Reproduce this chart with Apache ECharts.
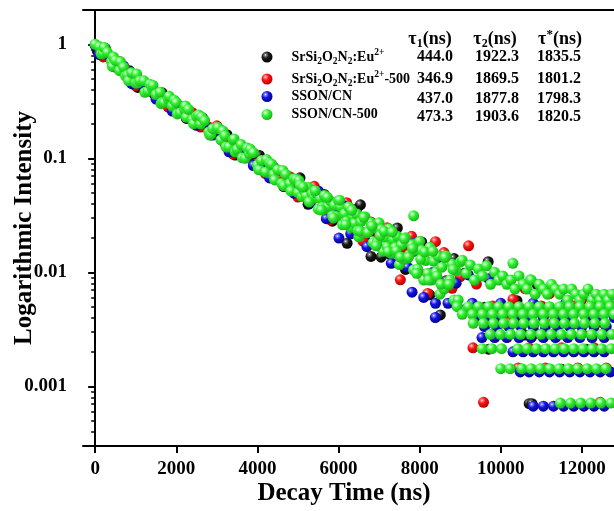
<!DOCTYPE html>
<html><head><meta charset="utf-8">
<script src="https://cdn.jsdelivr.net/npm/echarts@6/dist/echarts.min.js"></script>
<style>html,body{margin:0;padding:0;background:#fff}#c{width:614px;height:511px}</style>
</head><body><div id="c"></div>
<script>
const seriesNames = ['SrSi2O2N2:Eu2+', 'SrSi2O2N2:Eu2+-500', 'SSON/CN', 'SSON/CN-500'];
const legendLabels = [
  '{g| }{n|SrSi}{b|2}{n|O}{b|2}{n|N}{b|2}{n|:Eu}{p|2+}',
  '{g| }{n|SrSi}{b|2}{n|O}{b|2}{n|N}{b|2}{n|:Eu}{p|2+}{n|-500}',
  '{g| }{n|SSON/CN}',
  '{g| }{n|SSON/CN-500}'
];
const tauHeaders = ['{t|τ}{b|1}{t|(ns)}', '{t|τ}{b|2}{t|(ns)}', '{t|τ}{p|*}{t|(ns)}'];
const tau1 = [444.0, 346.9, 437.0, 473.3];
const tau2 = [1922.3, 1869.5, 1877.8, 1903.6];
const tauStar = [1835.5, 1801.2, 1798.3, 1820.5];
const xTicks = [0, 2000, 4000, 6000, 8000, 10000, 12000];
const yTicks = [0.001, 0.01, 0.1, 1];
const yMinorTicks = [0.0004,0.0005,0.0006,0.0007,0.0008,0.0009,
  0.002,0.003,0.004,0.005,0.006,0.007,0.008,0.009,
  0.02,0.03,0.04,0.05,0.06,0.07,0.08,0.09,
  0.2,0.3,0.4,0.5,0.6,0.7,0.8,0.9];

const blackPts = [[0,0.99],[50,0.881],[250,0.923],[450,0.641],[650,0.631],[850,0.585],[1050,0.419],[1250,0.449],[1450,0.369],[1650,0.376],[1850,0.280],[2050,0.279],[2250,0.224],[2450,0.210],[2650,0.225],[2850,0.161],[3050,0.167],[3250,0.161],[3450,0.107],[3650,0.124],[3850,0.0991],[4050,0.106],[4250,0.0738],[4450,0.0753],[4650,0.0565],[4850,0.0543],[5050,0.0675],[5250,0.0395],[5450,0.0472],[5650,0.0481],[5850,0.0281],[6050,0.0386],[6212,0.0180],[6250,0.0279],[6450,0.0361],[6540,0.0391],[6650,0.0195],[6800,0.0138],[6850,0.0230],[7050,0.0136],[7250,0.0145],[7450,0.0245],[7650,0.0106],[7850,0.0153],[8050,0.0185],[8250,0.00635],[8450,0.0131],[8510,0.00423],[8650,0.00846],[8850,0.0132],[9100,0.0098],[9600,0.00494],[9690,0.0124],[9700,0.00212],[10100,0.00423],[10400,0.00564],[10600,0.00282],[10700,0.000705],[10770,0.000705],[10900,0.0078],[11200,0.00494],[11500,0.00141],[11800,0.00353],[12100,0.00212],[12300,0.00423],[12600,0.00564]];

const redPts = [[0,0.985],[200,0.776],[400,0.759],[600,0.708],[800,0.519],[1000,0.432],[1200,0.457],[1400,0.432],[1600,0.335],[1800,0.282],[2000,0.302],[2200,0.260],[2400,0.251],[2600,0.188],[2800,0.188],[3000,0.193],[3200,0.135],[3400,0.109],[3600,0.125],[3800,0.121],[4000,0.0899],[4200,0.0736],[4400,0.0836],[4600,0.0695],[4800,0.069],[5000,0.0457],[5200,0.0521],[5400,0.0569],[5600,0.0365],[5800,0.0288],[6000,0.0383],[6200,0.0408],[6400,0.0251],[6600,0.0188],[6800,0.0276],[7000,0.0215],[7200,0.0246],[7400,0.0124],[7525,0.0086],[7600,0.0166],[7800,0.0207],[8000,0.0098],[8200,0.00653],[8390,0.0186],[8400,0.0127],[8600,0.0149],[8800,0.00725],[9000,0.0092],[9207,0.0171],[9315,0.00218],[9400,0.0079],[9500,0.00435],[9575,0.000725],[9800,0.00508],[9900,0.0029],[10100,0.0087],[10200,0.00363],[10300,0.0058],[10430,0.00145],[10500,0.00435],[10600,0.0072],[10700,0.00218],[10900,0.0029],[11000,0.00508],[11100,0.00145],[11200,0.0065],[11300,0.00363],[11500,0.00218],[11700,0.00435],[11800,0.00508],[11900,0.00145],[12000,0.0058],[12000,0.0029],[12300,0.00218],[12450,0.0058],[12450,0.000725],[12500,0.00363],[12600,0.00145],[12700,0.00508]];

const bluePts = [[0,0.98],[100,0.813],[300,0.822],[500,0.631],[700,0.646],[900,0.452],[1100,0.452],[1300,0.442],[1500,0.331],[1700,0.335],[1900,0.260],[2100,0.285],[2300,0.229],[2500,0.195],[2700,0.202],[2900,0.160],[3100,0.176],[3300,0.114],[3500,0.121],[3700,0.122],[3900,0.0865],[4100,0.0906],[4300,0.0673],[4500,0.0785],[4700,0.0586],[4900,0.0495],[5100,0.0561],[5300,0.0404],[5500,0.0518],[5700,0.0296],[5900,0.0338],[6010,0.0200],[6100,0.0389],[6300,0.0218],[6500,0.0272],[6700,0.0168],[6900,0.0255],[7100,0.0156],[7300,0.0120],[7500,0.0182],[7700,0.0111],[7813,0.0067],[7900,0.0182],[8100,0.00603],[8300,0.0099],[8387,0.00402],[8390,0.00536],[8500,0.0134],[8700,0.00536],[8900,0.00804],
[9100,0.00469],[9200,0.0095],[9300,0.00536],[9400,0.00402],[9500,0.00469],[9537,0.00268],[9600,0.00335],[9700,0.00402],[9700,0.0088],[9850,0.00268],[9900,0.00335],[9900,0.00469],[10000,0.00402],[10000,0.00536],[10150,0.00268],[10200,0.00335],[10200,0.0081],[10300,0.00201],[10350,0.00402],[10400,0.00469],[10450,0.00268],[10480,0.00134],[10500,0.00335],[10550,0.00201],[10700,0.00134],[10700,0.00402],[10750,0.00268],[10800,0.00067],[10800,0.00201],[10800,0.00335],[10800,0.00536],[10900,0.00469],[10950,0.00134],[11050,0.00067],[11050,0.00201],[11050,0.00268],[11050,0.00402],[11100,0.00335],[11200,0.00134],[11300,0.00067],[11300,0.00201],[11350,0.00268],[11400,0.00335],[11400,0.00402],[11400,0.00469],[11450,0.00134],[11550,0.00067],[11550,0.00201],[11600,0.00536],[11650,0.00268],[11700,0.00134],[11700,0.00335],[11750,0.00402],[11800,0.00067],[11800,0.00201],[11900,0.00469],[11950,0.00134],[11950,0.00268],[12000,0.00335],[12050,0.00067],[12050,0.00201],[12100,0.00402],[12200,0.00134],[12250,0.00268],[12300,0.00067],[12300,0.00201],[12300,0.00335],[12400,0.00469],[12400,0.00536],[12450,0.00134],[12450,0.00402],[12550,0.00067],[12550,0.00201],[12550,0.00268],[12600,0.00335],[12700,0.00134],[12800,0.00402]];

const greenPts = [[0,1.00],[100,0.955],[150,0.822],[200,0.832],[225,0.938],[300,0.851],[400,0.708],[425,0.640],[450,0.776],[500,0.724],[600,0.589],[625,0.703],[700,0.631],[750,0.525],[800,0.537],[825,0.478],[900,0.562],[1000,0.457],[1025,0.548],[1050,0.457],[1100,0.479],[1200,0.479],[1225,0.379],[1300,0.389],[1350,0.447],[1400,0.417],[1425,0.436],[1500,0.363],[1600,0.380],[1625,0.302],[1650,0.309],[1700,0.309],[1800,0.331],[1825,0.350],[1900,0.288],[1950,0.324],[2000,0.309],[2025,0.245],[2100,0.251],[2200,0.269],[2225,0.288],[2250,0.229],[2300,0.269],[2400,0.219],[2425,0.201],[2500,0.234],[2550,0.240],[2600,0.200],[2625,0.231],[2700,0.214],[2800,0.170],[2825,0.160],[2850,0.162],[2900,0.182],[3000,0.182],[3025,0.186],[3100,0.145],[3150,0.174],[3200,0.158],[3225,0.126],[3300,0.126],[3400,0.145],[3425,0.148],[3450,0.114],[3500,0.120],[3600,0.132],[3625,0.101],[3700,0.100],[3750,0.123],[3800,0.110],[3825,0.120],[3900,0.112],[4000,0.0871],[4025,0.0802],[4050,0.0794],[4100,0.0955],[4200,0.0759],[4225,0.0975],[4300,0.0912],[4350,0.0891],[4400,0.0724],[4425,0.0646],[4500,0.0794],[4600,0.0603],[4625,0.0783],[4650,0.0575],[4700,0.0724],[4800,0.0603],[4825,0.0518],[4900,0.0661],[4950,0.0653],[5000,0.0501],[5025,0.0638],
[5050,0.0582],[5100,0.0462],[5150,0.0525],[5200,0.0471],[5250,0.0558],[5300,0.0431],[5350,0.049],[5400,0.0446],[5450,0.0492],[5500,0.0358],[5550,0.0444],[5600,0.0373],[5650,0.0472],[5700,0.0369],[5750,0.0381],[5800,0.0423],[5850,0.0313],[5900,0.0388],[5950,0.0309],[6000,0.0424],[6050,0.0378],[6100,0.0261],[6150,0.0328],[6200,0.0279],[6250,0.0375],[6300,0.0248],[6350,0.0311],[6400,0.0270],[6450,0.0325],[6500,0.0205],[6550,0.0278],[6600,0.0221],[6650,0.0308],[6700,0.0222],[6750,0.0233],[6800,0.0272],[6850,0.0182],[6900,0.0246],[6950,0.0182],[7000,0.0272],[7050,0.0238],[7100,0.0153],[7150,0.0203],[7200,0.0167],[7250,0.0241],[7300,0.0147],[7350,0.0195],[7400,0.0165],[7450,0.0207],[7500,0.0117],[7550,0.0174],[7600,0.0131],[7650,0.0201],[7700,0.0133],[7750,0.0143],[7800,0.0175],[7850,0.0105],[7900,0.0156],[7950,0.0107],[8000,0.0187],[8050,0.0156],[8100,0.00857],[8150,0.0127],[8200,0.0098],[8250,0.0166],[8300,0.00857],[8350,0.0125],[8400,0.0100],[8450,0.0139],[8500,0.00643],[8550,0.0111],[8600,0.00714],[8650,0.0139],[8700,0.00786],[8750,0.00857],[8800,0.0118],[8850,0.00571],[8900,0.0103],[8950,0.00571],[9000,0.0123],
[5125,0.0560],[5275,0.0415],[5425,0.0520],[5575,0.0352],[5725,0.0455],[5875,0.0300],[6025,0.0430],[6175,0.0262],[6325,0.0350],[6475,0.0231],
[6525,0.0230],[6625,0.0304],[6725,0.0224],[6825,0.0255],[6925,0.0171],[7025,0.0210],[7125,0.0229],[7225,0.0152],[7325,0.0226],[7425,0.0155],[7525,0.0136],[7625,0.0197],[7725,0.0136],[7825,0.0162],[7925,0.0098],[8025,0.0130],[8125,0.0151],[8225,0.00857],[8325,0.0153],[8425,0.00929],[8525,0.00786],[8625,0.0135],[8725,0.00786],[8825,0.0106],[8925,0.005],
[7853,0.0313],[10300,0.0120],[10727,0.0086],
[9050,0.0128],[9150,0.0098],[9250,0.0116],[9350,0.00857],[9450,0.0107],[9550,0.00929],[9650,0.0114],[9750,0.00786],[9850,0.0100],[9950,0.00857],[10050,0.00929],[10150,0.00786],[10250,0.00857],[10350,0.00714],[10450,0.00929],[10550,0.00786],[10650,0.00714],[10750,0.00857],[10850,0.00643],[10950,0.00786],[11050,0.00714],[11150,0.00643],[11250,0.00786],[11350,0.00714],[11450,0.00643],[11550,0.00714],[11650,0.00571],[11750,0.00714],[11850,0.00643],[11950,0.00571],[12050,0.00643],[12150,0.00714],[12250,0.00571],[12350,0.00643],[12450,0.00571],[12550,0.00643],[12650,0.00571],[12750,0.00643],
[9200,0.005],[9450,0.005],[9700,0.005],[9950,0.005],[10200,0.005],[10450,0.005],[10700,0.005],[10950,0.005],[11200,0.005],[11450,0.005],[11700,0.005],[11950,0.005],[12200,0.005],[12450,0.005],[12700,0.005],
[9050,0.00429],[9300,0.00429],[9550,0.00429],[9800,0.00429],[10050,0.00429],[10300,0.00429],[10550,0.00429],[10800,0.00429],[11050,0.00429],[11300,0.00429],[11550,0.00429],[11800,0.00429],[12050,0.00429],[12300,0.00429],[12550,0.00429],[12800,0.00429],
[9320,0.00357],[9570,0.00357],[9820,0.00357],[10070,0.00357],[10320,0.00357],[10570,0.00357],[10820,0.00357],[11070,0.00357],[11320,0.00357],[11570,0.00357],[11820,0.00357],[12070,0.00357],[12320,0.00357],[12570,0.00357],
[9740,0.00286],[9990,0.00286],[10240,0.00286],[10490,0.00286],[10740,0.00286],[10990,0.00286],[11240,0.00286],[11490,0.00286],[11740,0.00286],[11990,0.00286],[12240,0.00286],[12490,0.00286],[12740,0.00286],
[9540,0.00214],[9780,0.00214],[10020,0.00214],[10420,0.00214],[10650,0.00214],[10880,0.00214],[11110,0.00214],[11340,0.00214],[11570,0.00214],[11800,0.00214],[12030,0.00214],[12260,0.00214],[12490,0.00214],[12720,0.00214],
[10000,0.00143],[10230,0.00143],[10520,0.00143],[10750,0.00143],[10980,0.00143],[11210,0.00143],[11440,0.00143],[11670,0.00143],[11900,0.00143],[12130,0.00143],[12360,0.00143],[12590,0.00143],
[11470,0.000714],[11720,0.000714],[11970,0.000714],[12220,0.000714],[12470,0.000714],[12720,0.000714]];

const F = 'Liberation Serif';
function sphere(light, main, dark) {
  return {type:'radial', x:0.36, y:0.32, r:0.72, colorStops:[
    {offset:0, color:'#ffffff'}, {offset:0.12, color:light}, {offset:0.42, color:main}, {offset:1, color:dark}]};
}
const colors = [sphere('#8a8a8a','#1a1a1a','#000000'), sphere('#ff8a8a','#ff1010','#b00000'),
                sphere('#8a8aff','#1414e0','#000088'), sphere('#b0ffb0','#30f030','#18b018')];
const allPts = [blackPts, redPts, bluePts, greenPts];
const rowY = [57, 79, 99, 117];
const colX = [435, 497, 559];
const headX = [430, 495, 560];

const richLegend = {
  g:{width:14, fontSize:14, lineHeight:18},
  n:{fontSize:14, fontWeight:'bold', fontFamily:F, lineHeight:18, color:'#000'},
  b:{fontSize:9.5, fontWeight:'bold', fontFamily:F, lineHeight:10, padding:[9,0,0,0], color:'#000'},
  p:{fontSize:9.5, fontWeight:'bold', fontFamily:F, lineHeight:10, padding:[0,0,9,0], color:'#000'}
};
const richHead = {
  t:{fontSize:18, fontWeight:'bold', fontFamily:F, lineHeight:20, color:'#000'},
  b:{fontSize:12, fontWeight:'bold', fontFamily:F, lineHeight:12, padding:[9,0,0,0], color:'#000'},
  p:{fontSize:13, fontWeight:'bold', fontFamily:F, lineHeight:13, padding:[0,0,8,0], color:'#000'}
};

const graphic = [];
tauHeaders.forEach((h, j) => graphic.push({type:'text', x: headX[j], y: 39,
  style:{text:h, rich:richHead, align:'center', verticalAlign:'middle', textAlign:'center', textVerticalAlign:'middle'}}));
[tau1, tau2, tauStar].forEach((col, j) => col.forEach((v, i) => graphic.push({type:'text', x: colX[j], y: rowY[i],
  style:{text: v.toFixed(1), font:'bold 16px ' + F, fill:'#000', align:'center', verticalAlign:'middle', textAlign:'center', textVerticalAlign:'middle'}})));

const chart = echarts.init(document.getElementById('c'), null, {renderer:'canvas'});
chart.setOption({
  animation:false,
  backgroundColor:'#fff',
  grid:{left:83, top:10, right:-49, bottom:65, containLabel:false, outerBoundsMode:'none'},
  legend: seriesNames.map((n, i) => ({data:[n], left:261.5, top:rowY[i]-9.5, padding:0, orient:'vertical',
    itemWidth:11, itemHeight:11, icon:'circle', selectedMode:false,
    formatter: () => legendLabels[i], textStyle:{rich:richLegend}})),
  xAxis:[{type:'value', min:-300, max:14000, position:'bottom',
      axisLine:{show:true, onZero:false, lineStyle:{color:'#000', width:2}},
      axisTick:{show:true, customValues:xTicks, length:7, lineStyle:{color:'#000', width:2}},
      axisLabel:{show:true, customValues:xTicks, margin:14, color:'#000', fontFamily:F, fontWeight:'bold', fontSize:19,
        formatter: v => String(v)},
      splitLine:{show:false},
      name:'Decay Time (ns)', nameLocation:'middle', nameGap:35, nameMoveOverlap:false,
      nameTextStyle:{color:'#000', fontFamily:F, fontWeight:'bold', fontSize:25, padding:[0,58,0,0]}},
    {type:'value', min:-300, max:14000, position:'top',
      axisLine:{show:true, onZero:false, lineStyle:{color:'#000', width:2}},
      axisTick:{show:false}, axisLabel:{show:false}, splitLine:{show:false}}],
  yAxis:[{type:'log', min:0.0003, max:2, position:'left',
      axisLine:{show:true, lineStyle:{color:'#000', width:2}},
      axisTick:{show:true, customValues:yTicks, length:7, lineStyle:{color:'#000', width:2}},
      axisLabel:{show:true, customValues:yTicks, margin:16, color:'#000', fontFamily:F, fontWeight:'bold', fontSize:19,
        formatter: v => String(v)},
      splitLine:{show:false}, minorTick:{show:false},
      name:'Logarithmic Intensity', nameLocation:'middle', nameGap:46, nameMoveOverlap:false,
      nameTextStyle:{color:'#000', fontFamily:F, fontWeight:'bold', fontSize:25}},
    {type:'log', min:0.0003, max:2, position:'left', offset:0,
      axisLine:{show:false},
      axisTick:{show:true, customValues:yMinorTicks, length:4, lineStyle:{color:'#000', width:1.5}},
      axisLabel:{show:false}, splitLine:{show:false}}],
  graphic: graphic,
  series: seriesNames.map((n, i) => ({name:n, type:'scatter', xAxisIndex:0, yAxisIndex:0,
    data: allPts[i], symbol:'circle', symbolSize:11,
    itemStyle:{color: colors[i], opacity:1}, emphasis:{disabled:true}}))
});
</script></body></html>
